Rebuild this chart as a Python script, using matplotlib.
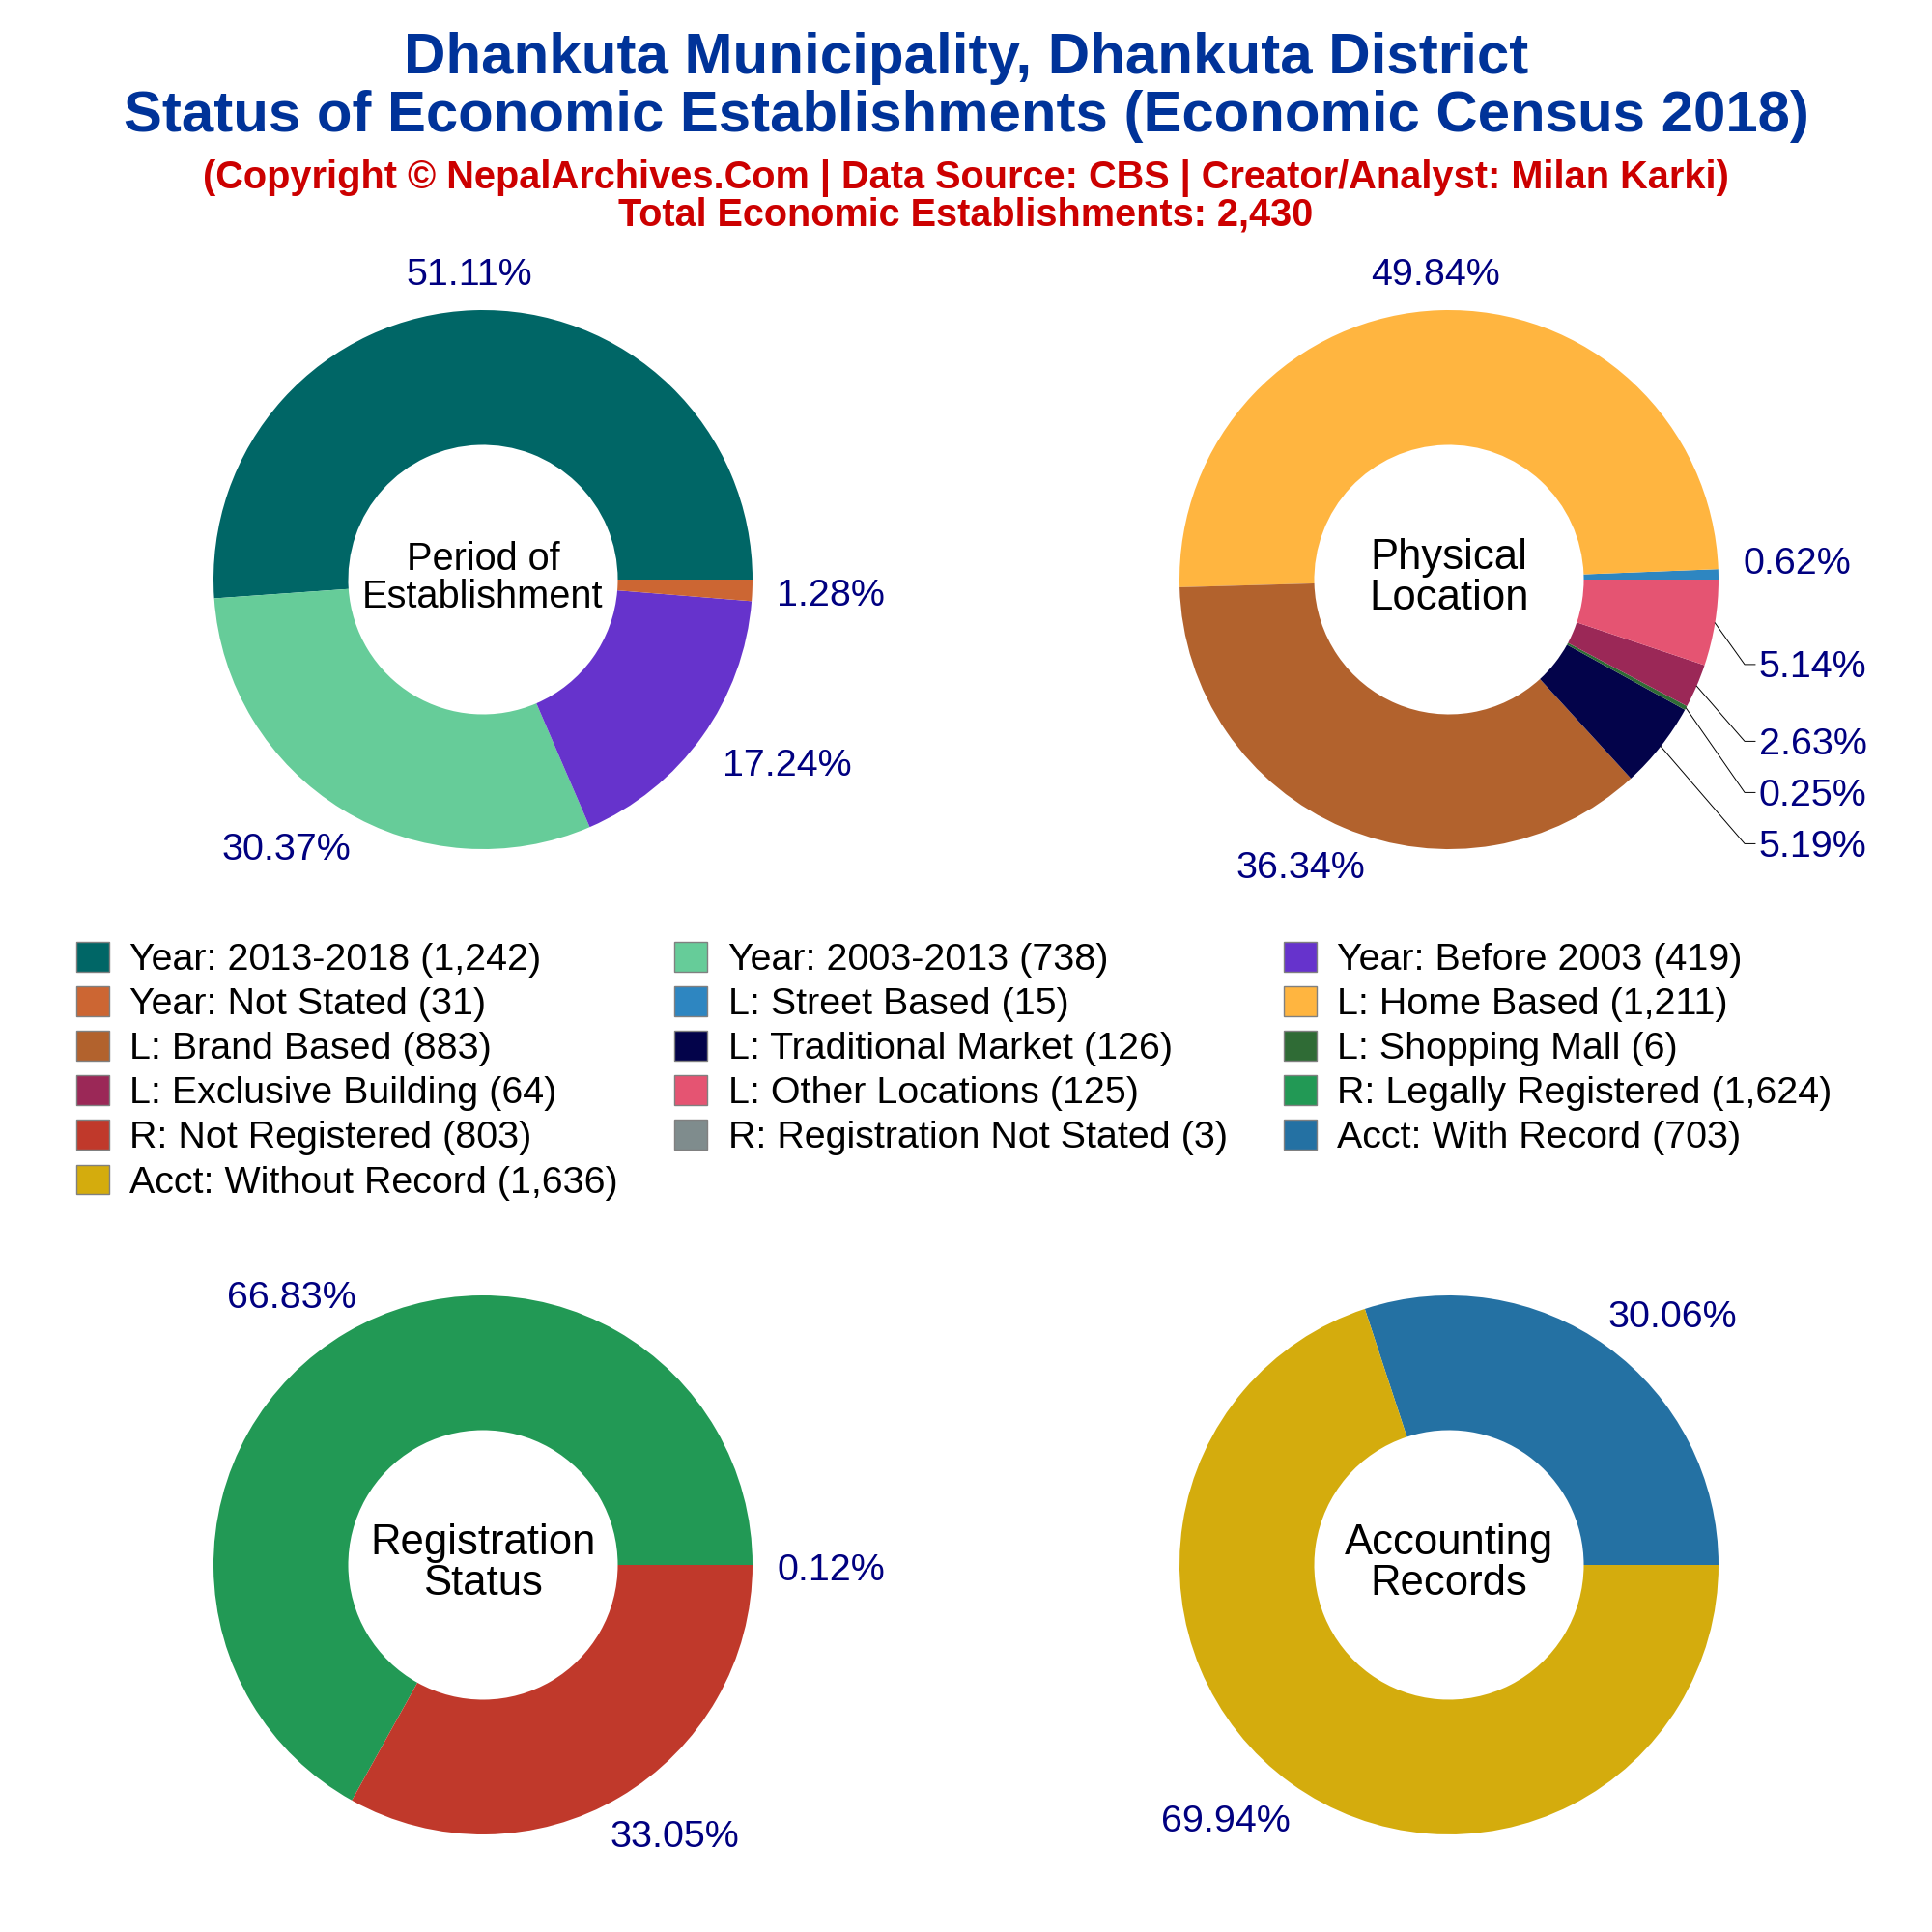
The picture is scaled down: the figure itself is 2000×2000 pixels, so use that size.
import matplotlib
matplotlib.use("Agg")
import numpy as np
import matplotlib.pyplot as plt
from matplotlib.patches import Patch

plt.rcParams['font.family'] = ['Liberation Sans', 'DejaVu Sans']

# data
period_labels = ["Year: 2013-2018", "Year: 2003-2013", "Year: Before 2003", "Year: Not Stated"]
period_values = [1242, 738, 419, 31]
period_colors = ["#006666", "#66CC99", "#6633CC", "#CC6633"]

location_labels = ["L: Street Based", "L: Home Based", "L: Brand Based", "L: Traditional Market",
                   "L: Shopping Mall", "L: Exclusive Building", "L: Other Locations"]
location_values = [15, 1211, 883, 126, 6, 64, 125]
location_colors = ["#2E86C1", "#FFB540", "#B2622D", "#03034A", "#2F6B35", "#9B2857", "#E55472"]

registration_labels = ["R: Legally Registered", "R: Not Registered", "R: Registration Not Stated"]
registration_values = [1624, 803, 3]
registration_colors = ["#229955", "#C0392B", "#7F8C8D"]

account_labels = ["Acct: With Record", "Acct: Without Record"]
account_values = [703, 1636]
account_colors = ["#2471A3", "#D4AC0D"]

NAVY = "#000080"
FONT = 14.2

fig = plt.figure(figsize=(10, 10), dpi=200)

# titles, one baseline each
fig.text(0.5, 0.962, "Dhankuta Municipality, Dhankuta District", ha="center", va="baseline",
         fontsize=21.6, fontweight="bold", color="#003399")
fig.text(0.5, 0.932, "Status of Economic Establishments (Economic Census 2018)", ha="center", va="baseline",
         fontsize=21.55, fontweight="bold", color="#003399")
fig.text(0.5, 0.9025, "(Copyright © NepalArchives.Com | Data Source: CBS | Creator/Analyst: Milan Karki)",
         ha="center", va="baseline", fontsize=14.3, fontweight="bold", color="#CC0000")
fig.text(0.5, 0.8835, "Total Economic Establishments: 2,430", ha="center", va="baseline",
         fontsize=14.25, fontweight="bold", color="#CC0000")


def donut(cx, cy, values, colors, center, center_size, label_pos, drawn=None):
    ax = fig.add_axes([(cx - 279) / 2000, 1 - (cy + 279) / 2000, 558 / 2000, 558 / 2000])
    ax.pie(values if drawn is None else drawn, colors=colors, startangle=0, counterclock=True, radius=1,
           wedgeprops=dict(width=0.5, linewidth=0))
    ax.set_xlim(-1, 1)
    ax.set_ylim(-1, 1)
    ax.text(0, 0.004, center, ha="center", va="center", fontsize=center_size, linespacing=1.03, color="black")
    total = sum(values)
    for v, (x, y, ha) in zip(values, label_pos):
        ax.text(x, y - 0.012, f"{100 * v / total:.2f}%", ha=ha, va="center", fontsize=FONT, color=NAVY)
    return ax


ax1 = donut(500, 600, period_values, period_colors, "Period of\nEstablishment", 14.3,
            [(-0.05, 1.14, "center"), (-0.73, -0.99, "center"), (1.13, -0.68, "center"), (1.29, -0.05, "center")])

ax2 = donut(1500, 600, location_values, location_colors, "Physical\nLocation", 15.7,
            [(1.29, 0.07, "center"), (-0.05, 1.14, "center"), (-0.55, -1.06, "center"),
             (1.15, -0.98, "left"), (1.15, -0.79, "left"), (1.15, -0.60, "left"), (1.15, -0.315, "left")])

# leader lines for the small slices, index -> label height
leaders = {3: -0.98, 4: -0.79, 5: -0.60, 6: -0.315}
fracs = np.array(location_values) / sum(location_values)
edges = np.cumsum(fracs)
for i, ly in leaders.items():
    mid = 2 * np.pi * (edges[i] - fracs[i] / 2)
    ax2.plot([np.cos(mid), 1.097, 1.136], [np.sin(mid), ly, ly], color="black", lw=0.35, clip_on=False)

# the 3 "not stated" do not show as a slice in the original, only as a label
ax3 = donut(500, 1620, registration_values, registration_colors, "Registration\nStatus", 15.7,
            [(-0.71, 1.0, "center"), (0.71, -1.0, "center"), (1.29, -0.01, "center")],
            drawn=registration_values[:2])

ax4 = donut(1500, 1620, account_values, account_colors, "Accounting\nRecords", 15.7,
            [(0.83, 0.93, "center"), (-0.83, -0.94, "center")])

# legend, matplotlib fills by column so reorder to read across rows
all_labels = period_labels + location_labels + registration_labels + account_labels
all_values = period_values + location_values + registration_values + account_values
all_colors = period_colors + location_colors + registration_colors + account_colors
handles = [Patch(facecolor=c, edgecolor="#808080", linewidth=0.5, label=f"{l} ({v:,})")
           for l, v, c in zip(all_labels, all_values, all_colors)]
ordered = [handles[i] for i in list(range(0, 16, 3)) + list(range(1, 16, 3)) + list(range(2, 16, 3))]

fig.legend(handles=ordered, ncol=3, frameon=False, fontsize=FONT, loc="upper left",
           bbox_to_anchor=(79 / 2000, 1 - 975 / 2000), borderpad=0, borderaxespad=0,
           handlelength=0.85, handleheight=0.82, handletextpad=0.55, labelspacing=0.23, columnspacing=1.48)

fig.savefig("out.png", dpi=200, facecolor="white")
